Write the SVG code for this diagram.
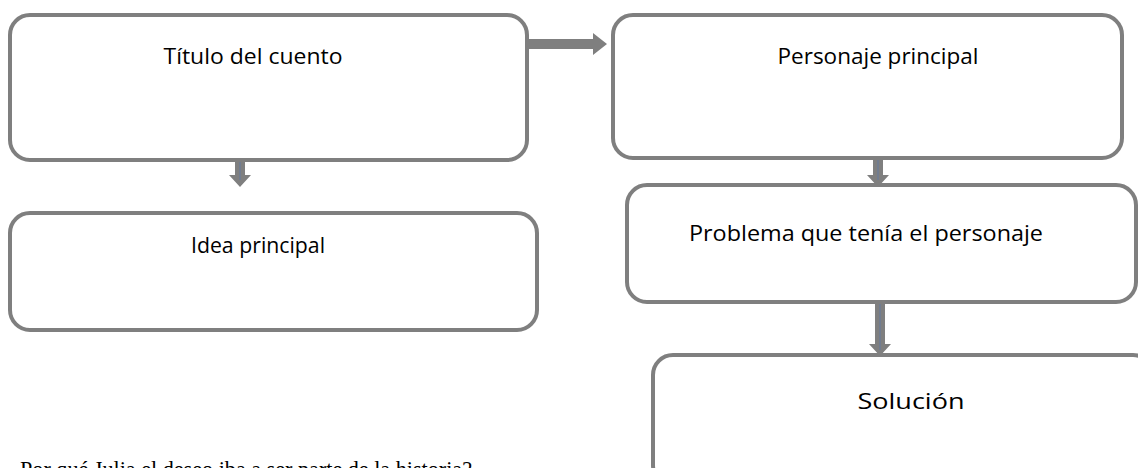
<svg xmlns="http://www.w3.org/2000/svg" width="1138" height="468" viewBox="0 0 1138 468">
<style>
.box{fill:#ffffff;stroke:#7f7f7f;stroke-width:4}
.lbl{font-family:"Open Sans","Liberation Sans",sans-serif;font-size:22px;fill:#000000;text-anchor:middle}
.arr{fill:#7f7f7f}
.ln{stroke:#4472c4;stroke-width:0.8;stroke-opacity:0.6}
.foot{font-family:"Liberation Serif","Times New Roman",serif;font-size:24px;fill:#000000}
</style>
<rect width="1138" height="468" fill="#ffffff"/>
<g id="connectors">
<polygon class="arr" points="528,39 593,39 593,33 607,44 593,55 593,49 528,49"/>
<polygon class="arr" points="235,162 245,162 245,175 251,175 240,187 229,175 235,175"/>
<line class="ln" x1="240" y1="162" x2="240" y2="180"/>
<polygon class="arr" points="873,160 883,160 883,175 889,175 878,187 867,175 873,175"/>
<line class="ln" x1="878" y1="160" x2="878" y2="180"/>
<polygon class="arr" points="875,304 885,304 885,344 891,344 880,356 869,344 875,344"/>
<line class="ln" x1="880" y1="304" x2="880" y2="350"/>
</g>
<g id="titulo">
<rect class="box" x="10" y="15" width="517" height="145" rx="20"/>
<text class="lbl" x="253" y="64" textLength="179" lengthAdjust="spacingAndGlyphs">Título del cuento</text>
</g>
<g id="personaje">
<rect class="box" x="613" y="15" width="509" height="143" rx="20"/>
<text class="lbl" x="878" y="64" textLength="201" lengthAdjust="spacingAndGlyphs">Personaje principal</text>
</g>
<g id="idea">
<rect class="box" x="10" y="213" width="527" height="117" rx="20"/>
<text class="lbl" x="258" y="253" textLength="134" lengthAdjust="spacingAndGlyphs">Idea principal</text>
</g>
<g id="problema">
<rect class="box" x="627" y="185" width="509" height="117" rx="20"/>
<text class="lbl" x="866" y="241" textLength="354" lengthAdjust="spacingAndGlyphs">Problema que tenía el personaje</text>
</g>
<g id="solucion">
<rect class="box" x="653" y="355" width="500" height="130" rx="20"/>
<text class="lbl" x="911" y="409" textLength="107" lengthAdjust="spacingAndGlyphs">Solución</text>
</g>
<text class="foot" x="20" y="477" textLength="452" lengthAdjust="spacingAndGlyphs">Por qué Julia el deseo iba a ser parte de la historia?</text>
</svg>
